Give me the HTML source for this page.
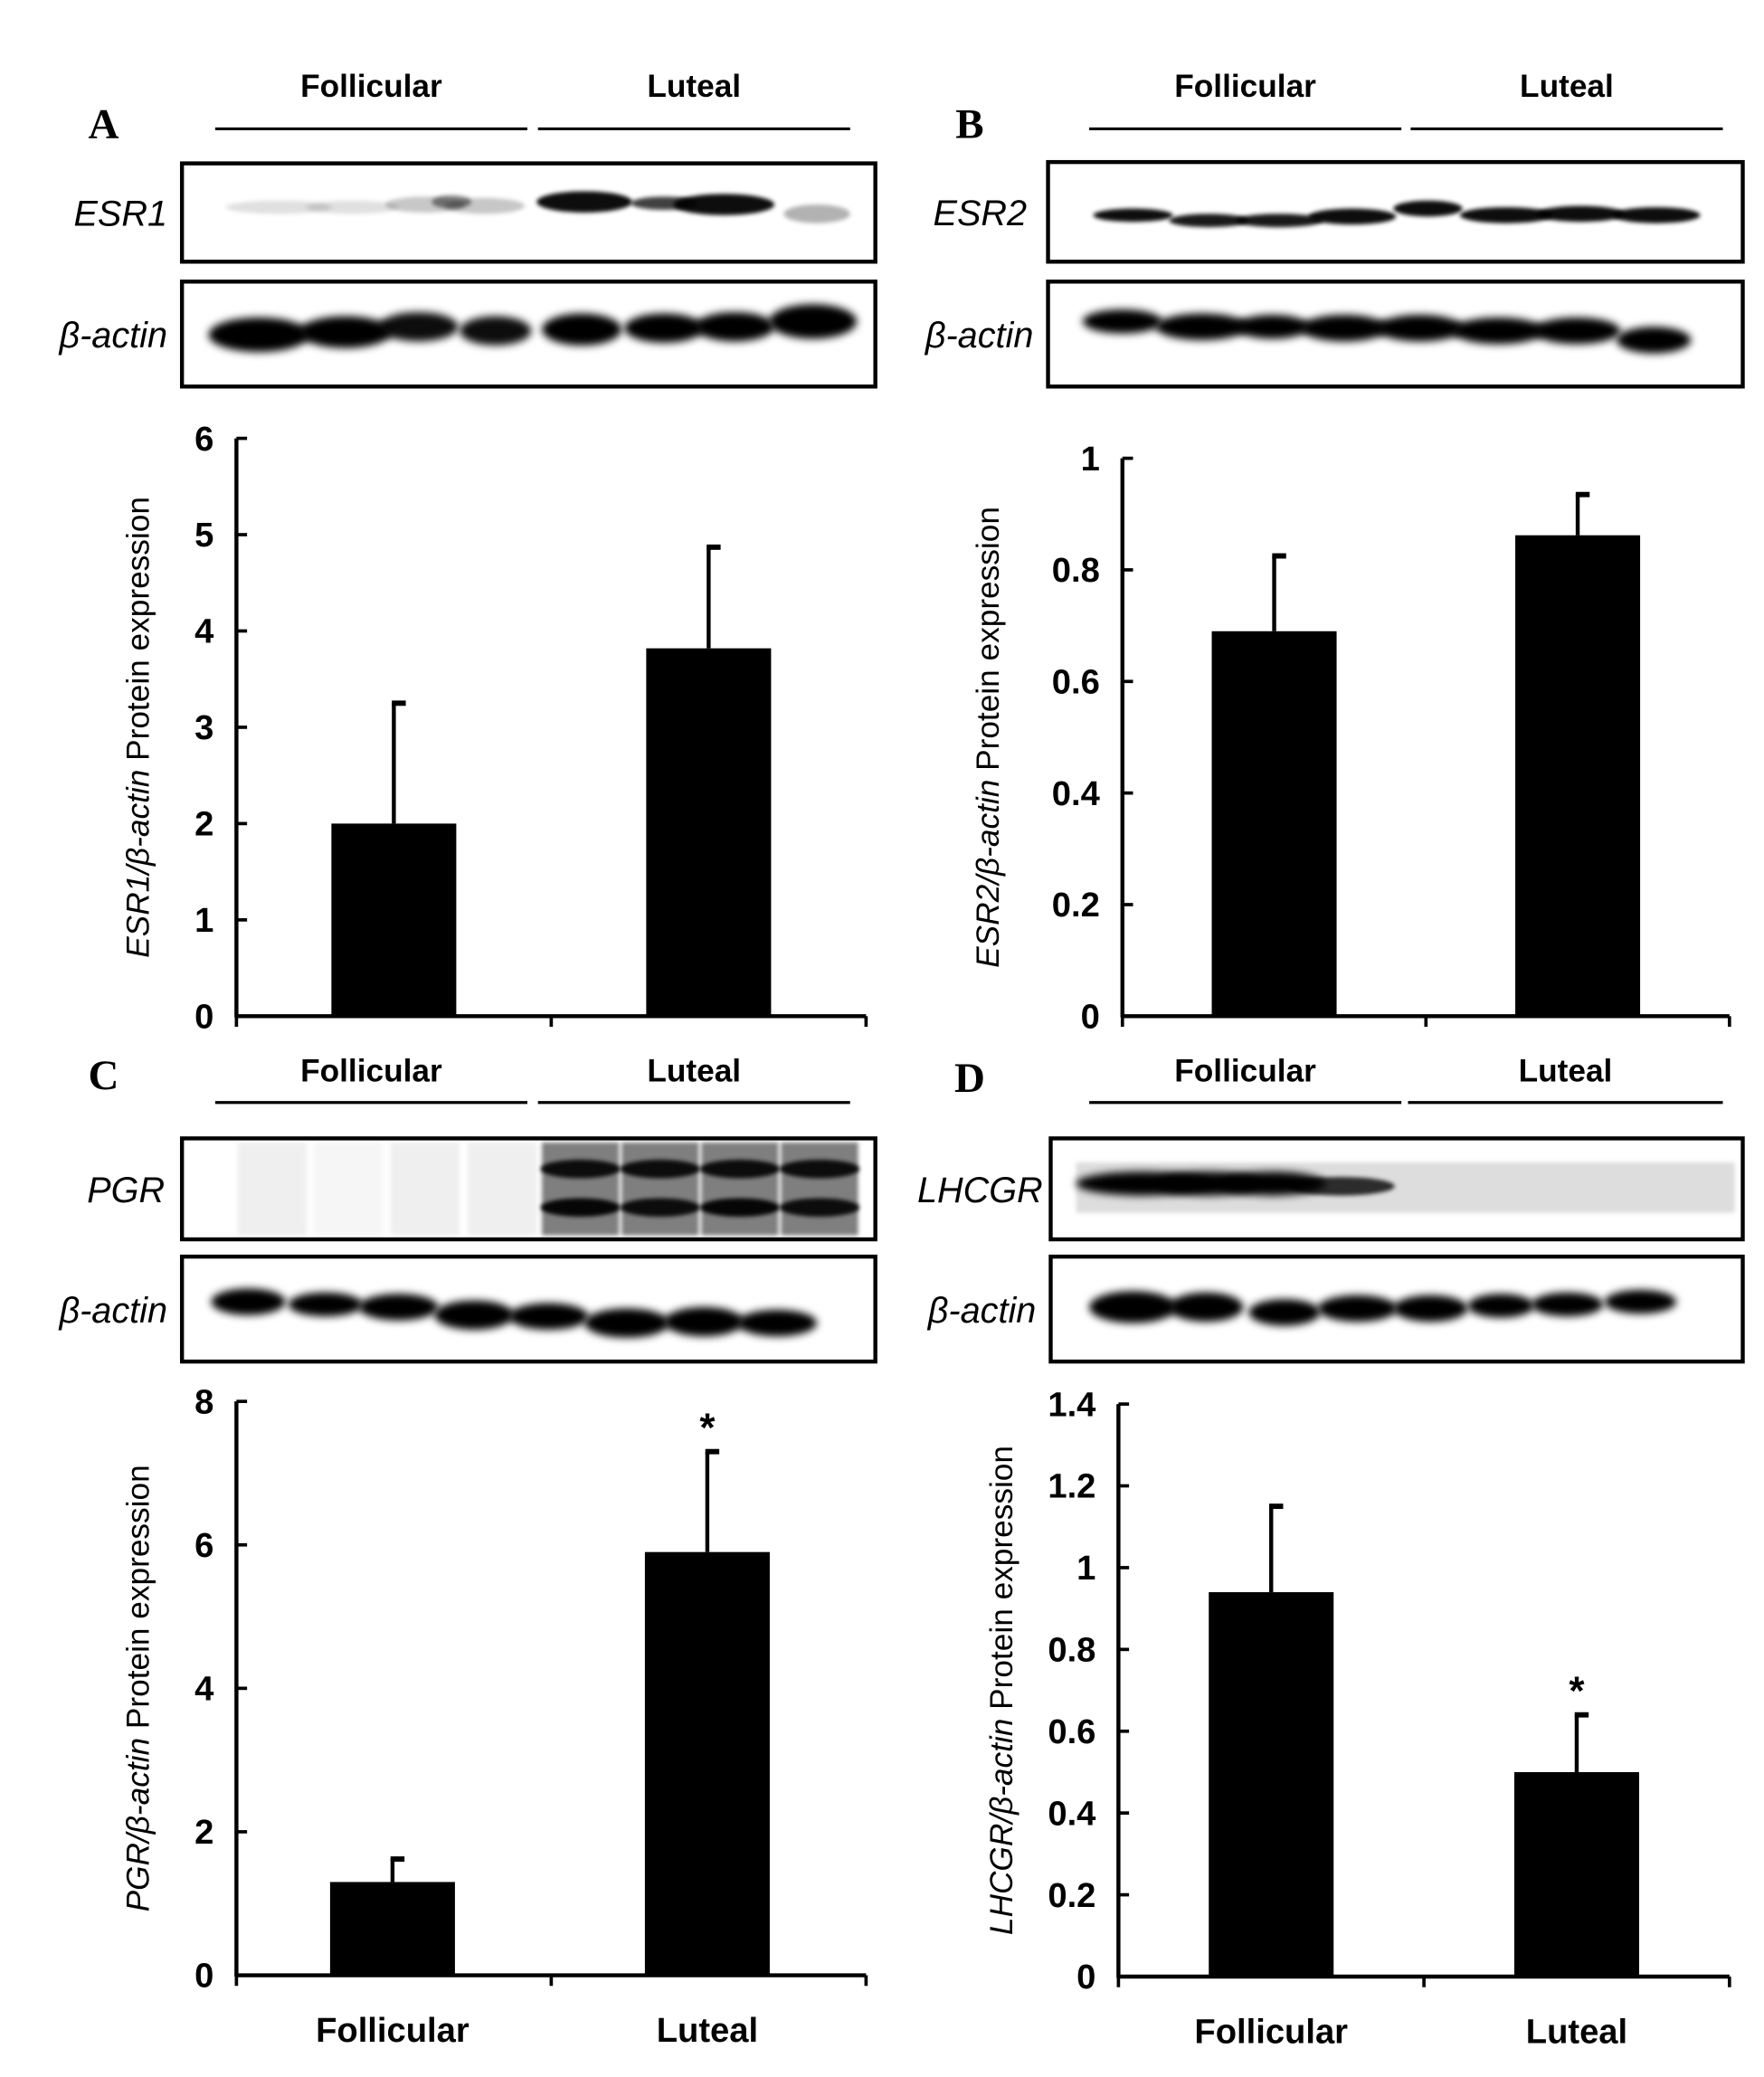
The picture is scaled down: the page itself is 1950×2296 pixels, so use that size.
<!DOCTYPE html>
<html><head><meta charset="utf-8">
<style>
html,body{margin:0;padding:0;background:#fff;}
svg{display:block;}
text{font-family:"Liberation Sans",Arial,sans-serif;}
text.serif{font-family:"Liberation Serif",serif;}
</style></head>
<body>
<svg id="fig" width="1950" height="2296" viewBox="0 0 1328 1563.6" preserveAspectRatio="none" xmlns="http://www.w3.org/2000/svg">
<defs>
<filter id="blur" x="-20%" y="-50%" width="140%" height="200%"><feGaussianBlur stdDeviation="3"/></filter>
<filter id="blur2" x="-20%" y="-50%" width="140%" height="200%"><feGaussianBlur stdDeviation="1.6"/></filter>
</defs>
</svg>
<script>
// ===== Chart data =====
const categories = ["Follicular", "Luteal"];
const esr1Values = [2.0, 3.82];
const esr1Errors = [1.25, 1.05];
const esr1Ticks = ["0","1","2","3","4","5","6"];
const esr2Values = [0.69, 0.862];
const esr2Errors = [0.135, 0.073];
const esr2Ticks = ["0","0.2","0.4","0.6","0.8","1"];
const pgrValues = [1.3, 5.9];
const pgrErrors = [0.32, 1.4];
const pgrTicks = ["0","2","4","6","8"];
const lhcgrValues = [0.94, 0.5];
const lhcgrErrors = [0.21, 0.14];
const lhcgrTicks = ["0","0.2","0.4","0.6","0.8","1","1.2","1.4"];
const pgrStars = [false, true];
const lhcgrStars = [false, true];

const NS = "http://www.w3.org/2000/svg";
const svg = document.getElementById('fig');
function mk(tag, attrs, parent) {
  const e = document.createElementNS(NS, tag);
  for (const k in attrs) e.setAttribute(k, attrs[k]);
  (parent || svg).appendChild(e);
  return e;
}
function txt(str, x, y, size, opts, parent) {
  const t = mk('text', Object.assign({x:x, y:y, 'font-size':size, 'text-anchor':'middle', fill:'#000'}, opts||{}), parent);
  t.textContent = str;
  return t;
}

function panelHeader(letter, lx, ly, lines, labelY, lineY) {
  const g = mk('g', {});
  
  
  const l = txt(letter, lx, ly, 32, {'class':'serif','font-weight':'bold'}, g);
  
  
  lines.forEach((ln, i) => {
    const t = txt(categories[i], (ln[0]+ln[1])/2, labelY, 24, {'font-weight':'bold'}, g);
    
    
    const r = mk('line', {x1:ln[0], x2:ln[1], y1:lineY, y2:lineY, stroke:'#000', 'stroke-width':2.2}, g);
    
    
  });
}

function blot(name, label, labelX, box, bands) {
  const g = mk('g', {});
  
  
  const [x, y, w, h] = box;
  bands.forEach(b => {
    let e;
    if (b[6] === 'rect') {
      e = mk('rect', {x:b[0]-b[2], y:b[1]-b[3], width:2*b[2], height:2*b[3], fill:b[5]||'#000', 'fill-opacity':b[4], filter:'url(#blur2)'}, g);
    } else {
      e = mk('ellipse', {cx:b[0], cy:b[1], rx:b[2], ry:b[3], fill: b[5]||'#000', 'fill-opacity':b[4], filter: b[3] > 8 ? 'url(#blur)' : 'url(#blur2)'}, g);
    }
    
    
  });
  const r = mk('rect', {x:x, y:y, width:w, height:h, fill:'none', stroke:'#000', 'stroke-width':3}, g);
  
  
  const t = txt(label, labelX, y + h/2 + 10, 27, {'font-style':'italic','text-anchor':'end'}, g);
  
  
}

function chart(id, o) {
  const g = mk('g', {});
  
  
  const ymax = +o.ticks[o.ticks.length-1];
  const Y = v => o.y0 - (v / ymax) * (o.y0 - o.y1);
  const ax = mk('line', {x1:o.x0, x2:o.x0, y1:o.y1, y2:o.y0+1, stroke:'#000','stroke-width':3}, g);
  
  
  const xa = mk('line', {x1:o.x0-1, x2:o.x2, y1:o.y0, y2:o.y0, stroke:'#000','stroke-width':3}, g);
  
  
  o.ticks.forEach(tk => {
    const yy = Y(+tk);
    const tl = mk('line', {x1:o.x0, x2:o.x0+8, y1:yy, y2:yy, stroke:'#000','stroke-width':2.5}, g);
    
    
    const t = txt(tk, o.x0 - 17, yy + 9, 26, {'font-weight':'bold','text-anchor':'end'}, g);
    
    
  });
  const slot = (o.x2 - o.x0) / o.values.length;
  [o.x0, o.x0+slot, o.x2].forEach(xx => {
    const tl = mk('line', {x1:xx, x2:xx, y1:o.y0, y2:o.y0+8, stroke:'#000','stroke-width':2.5}, g);
    
    
  });
  o.values.forEach((v, i) => {
    const cx = o.x0 + slot*(i+0.5) + o.off;
    const bw = 94;
    const top = Y(v);
    const et = Y(v + o.errors[i]);
    const el = mk('line', {x1:cx, x2:cx, y1:et, y2:top, stroke:'#000','stroke-width':3}, g);
    
    
    const cap = mk('line', {x1:cx-1.5, x2:cx+9, y1:et, y2:et, stroke:'#000','stroke-width':4}, g);
    
    
    const r = mk('rect', {x:cx-bw/2, y:top, width:bw, height:o.y0-top, fill:'#000'}, g);
    
    
    if (o.stars && o.stars[i]) {
      const s = txt('*', cx, et - 8, 30, {'font-weight':'bold'}, g);
      
      
    }
    if (o.xlabels) {
      const t = txt(categories[i], cx, o.y0 + 50, 26, {'font-weight':'bold'}, g);
      
      
    }
  });
  const yt = mk('text', {x:0, y:0, 'font-size':24, 'text-anchor':'middle', transform:`translate(${o.lx},${(o.y0+o.y1)/2}) rotate(-90)`}, g);
  
  
  const ts1 = mk('tspan', {'font-style':'italic'}, yt);
  ts1.textContent = o.gene + '/\u03B2-actin';
  const ts2 = mk('tspan', {}, yt);
  ts2.textContent = ' Protein expression';
}

// ===== Panel A =====
panelHeader('A', 78, 104, [[162,397],[405,640]], 73, 97);
blot('esr1', 'ESR1', 126, [137,123,522,74], [
  [210,156,40,5,0.12],[265,156,35,5,0.12],[320,154,30,6,0.22],[340,152,15,5,0.45],[365,155,30,6,0.22],
  [440,152,36,8,0.95],[500,153,25,5,0.75],[545,154,38,8,0.95],[615,161,25,7,0.3]]);
blot('esr1-actin', '\u03B2-actin', 126, [137,212,522,79], [
  [195,252,38,13,1],[260,250,35,12,1],[315,246,30,11,0.95],[373,249,27,11,0.95],
  [438,248,30,12,1],[500,247,30,11,1],[553,246,30,11,1],[612,242,33,13,1]]);
chart('esr1', {x0:178, x2:652, y0:765, y1:330, ticks:esr1Ticks, values:esr1Values, errors:esr1Errors, off:0, gene:'ESR1', lx:112});

// ===== Panel B =====
panelHeader('B', 730, 104, [[820,1055],[1062,1297]], 73, 97);
blot('esr2', 'ESR2', 773, [789,122,523,75], [
  [853,162,30,5,0.95],[910,166,30,5,0.9],[963,166,33,5,0.9],[1018,163,33,6,0.95],
  [1075,157,26,6,0.95],[1134,162,35,6,0.95],[1190,161,33,6,0.95],[1247,162,33,6,0.95]]);
blot('esr2-actin', '\u03B2-actin', 778, [789,212,523,79], [
  [845,242,30,9,1],[905,246,35,10,1],[958,246,28,9,1],[1012,247,33,10,1],
  [1069,247,33,10,1],[1128,249,35,10,1],[1187,249,33,10,1],[1245,256,28,10,1]]);
chart('esr2', {x0:845, x2:1302, y0:765, y1:345, ticks:esr2Ticks, values:esr2Values, errors:esr2Errors, off:0, gene:'ESR2', lx:752});

// ===== Panel C =====
panelHeader('C', 78, 820, [[162,397],[405,640]], 814, 830);
blot('pgr', 'PGR', 124, [137,857,522,76], [
  [205,895,26,35,0.1,'#666','rect'],[262,895,26,35,0.06,'#666','rect'],[320,895,26,35,0.1,'#666','rect'],[378,895,26,35,0.1,'#666','rect'],
  [437,895,29,35,0.5,'#000','rect'],[497,895,29,35,0.5,'#000','rect'],[557,895,29,35,0.5,'#000','rect'],[617,895,29,35,0.5,'#000','rect'],
  [437,880,30,7,0.9],[497,880,30,7,0.9],[557,880,30,7,0.9],[617,880,30,7,0.9],
  [437,909,30,7,0.95],[497,909,30,7,0.9],[557,909,30,7,0.95],[617,909,30,7,0.9]]);
blot('pgr-actin', '\u03B2-actin', 126, [137,946,522,79], [
  [187,980,28,10,1],[245,982,28,9,1],[300,984,30,10,1],[357,990,30,11,1],
  [413,991,30,10,1],[472,996,32,11,1],[530,995,30,11,1],[585,996,30,10,1]]);
chart('pgr', {x0:178, x2:652, y0:1487, y1:1055, ticks:pgrTicks, values:pgrValues, errors:pgrErrors, stars:pgrStars, off:-1, gene:'PGR', lx:112, xlabels:true});

// ===== Panel D =====
panelHeader('D', 730, 822, [[820,1055],[1060,1297]], 814, 830);
blot('lhcgr', 'LHCGR', 785, [791,857,521,76], [
  [1058,894,248,19,0.25,'#777','rect'],
  [860,891,50,9,1],[910,891,40,9,1],[958,891,40,9,1],[1010,893,40,7,0.8]]);
blot('lhcgr-actin', '\u03B2-actin', 780, [791,946,521,79], [
  [853,984,33,12,1],[908,984,28,11,1],[967,988,27,10,1],[1022,985,30,10,1],
  [1077,985,28,10,1],[1130,983,25,9,1],[1180,982,27,9,1],[1235,980,27,9,1]]);
chart('lhcgr', {x0:842, x2:1302, y0:1488, y1:1057, ticks:lhcgrTicks, values:lhcgrValues, errors:lhcgrErrors, stars:lhcgrStars, off:0, gene:'LHCGR', lx:762, xlabels:true});
</script>
</body></html>
